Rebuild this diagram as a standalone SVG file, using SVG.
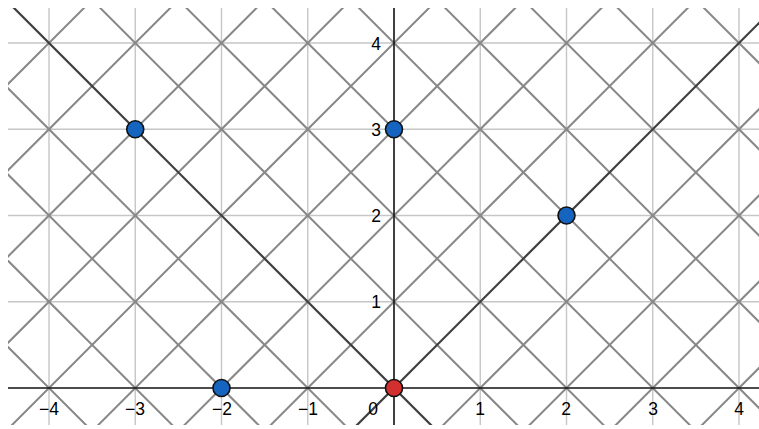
<svg xmlns="http://www.w3.org/2000/svg" width="759" height="429" viewBox="0 0 759 429">
<style>
.grid line{stroke:#c6c6c6;stroke-width:1.4;vector-effect:non-scaling-stroke}
.diag line{stroke:#888;stroke-width:2;vector-effect:non-scaling-stroke}
.dark line{stroke:#3f3f3f;stroke-width:2.2;vector-effect:non-scaling-stroke}
.axis line{stroke:#111;stroke-width:1.6}
text{font-family:"Liberation Sans",Arial,sans-serif;font-size:17.5px;fill:#000}
.xl{text-anchor:middle}
.yl{text-anchor:end}
.pt{stroke:#111;stroke-width:1.6}
</style>
<defs>
<clipPath id="area"><rect x="8" y="8" width="751" height="417"/></clipPath>
</defs>
<rect width="759" height="429" fill="#fff"/>
<g id="connectors" clip-path="url(#area)">
<g transform="translate(394,388) scale(86.25,-86.25)">
<g class="grid">
<line x1="-4" y1="-1" x2="-4" y2="5"/><line x1="-3" y1="-1" x2="-3" y2="5"/><line x1="-2" y1="-1" x2="-2" y2="5"/><line x1="-1" y1="-1" x2="-1" y2="5"/>
<line x1="1" y1="-1" x2="1" y2="5"/><line x1="2" y1="-1" x2="2" y2="5"/><line x1="3" y1="-1" x2="3" y2="5"/><line x1="4" y1="-1" x2="4" y2="5"/>
<line x1="-5" y1="1" x2="5" y2="1"/><line x1="-5" y1="2" x2="5" y2="2"/><line x1="-5" y1="3" x2="5" y2="3"/><line x1="-5" y1="4" x2="5" y2="4"/>
</g>
<g class="diag">
<line x1="-6" y1="2" x2="6" y2="-10"/><line x1="-6" y1="3" x2="6" y2="-9"/><line x1="-6" y1="4" x2="6" y2="-8"/><line x1="-6" y1="5" x2="6" y2="-7"/>
<line x1="-6" y1="7" x2="6" y2="-5"/><line x1="-6" y1="8" x2="6" y2="-4"/><line x1="-6" y1="9" x2="6" y2="-3"/><line x1="-6" y1="10" x2="6" y2="-2"/>
<line x1="-6" y1="11" x2="6" y2="-1"/><line x1="-6" y1="12" x2="6" y2="0"/><line x1="-6" y1="13" x2="6" y2="1"/><line x1="-6" y1="14" x2="6" y2="2"/><line x1="-6" y1="15" x2="6" y2="3"/>
<line x1="-6" y1="2" x2="6" y2="14"/><line x1="-6" y1="1" x2="6" y2="13"/><line x1="-6" y1="0" x2="6" y2="12"/><line x1="-6" y1="-1" x2="6" y2="11"/>
<line x1="-6" y1="-2" x2="6" y2="10"/><line x1="-6" y1="-3" x2="6" y2="9"/><line x1="-6" y1="-4" x2="6" y2="8"/><line x1="-6" y1="-5" x2="6" y2="7"/>
<line x1="-6" y1="-7" x2="6" y2="5"/><line x1="-6" y1="-8" x2="6" y2="4"/><line x1="-6" y1="-9" x2="6" y2="3"/><line x1="-6" y1="-10" x2="6" y2="2"/>
</g>
<g class="dark">
<line x1="-6" y1="6" x2="6" y2="-6"/>
<line x1="-6" y1="-6" x2="6" y2="6"/>
</g>
</g>
<g class="axis">
<line x1="8" y1="388" x2="759" y2="388"/>
<line x1="394" y1="8" x2="394" y2="429"/>
</g>
</g>
<g id="labels">
<text class="xl" x="49" y="415">−4</text>
<text class="xl" x="135" y="415">−3</text>
<text class="xl" x="222" y="415">−2</text>
<text class="xl" x="308" y="415">−1</text>
<text class="xl" x="373" y="415">0</text>
<text class="xl" x="480" y="415">1</text>
<text class="xl" x="566" y="415">2</text>
<text class="xl" x="653" y="415">3</text>
<text class="xl" x="739" y="415">4</text>
<text class="yl" x="381" y="308">1</text>
<text class="yl" x="381" y="222">2</text>
<text class="yl" x="381" y="136">3</text>
<text class="yl" x="381" y="50">4</text>
</g>
<g id="node-a"><circle class="pt" cx="135.25" cy="129.25" r="8.5" fill="#1565c0"/></g>
<g id="node-b"><circle class="pt" cx="394" cy="129.25" r="8.5" fill="#1565c0"/></g>
<g id="node-c"><circle class="pt" cx="566.5" cy="215.5" r="8.5" fill="#1565c0"/></g>
<g id="node-d"><circle class="pt" cx="221.5" cy="388" r="8.5" fill="#1565c0"/></g>
<g id="node-o"><circle class="pt" cx="394" cy="388" r="8.5" fill="#d32f2f"/></g>
</svg>
